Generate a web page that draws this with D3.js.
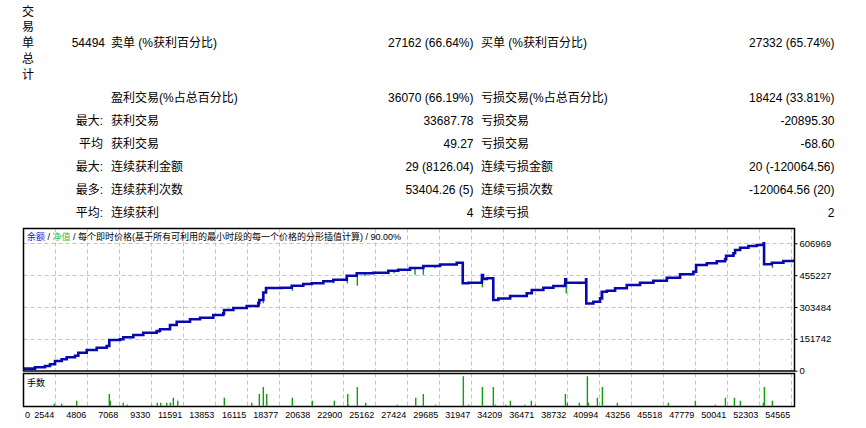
<!DOCTYPE html>
<html><head><meta charset="utf-8">
<script src="https://cdn.jsdelivr.net/npm/d3@7"></script>
<style>
body{margin:0;background:#fff}
text{font-family:"Liberation Sans","Noto Sans CJK SC",sans-serif;fill:#000}
</style>
</head><body>
<svg id="c" width="866" height="428"></svg>
<script>
// ---------- data ----------
const verticalTitle = ["交","易","单","总","计"];
const rowHeads    = ["54494", "", "最大:", "平均", "最大:", "最多:", "平均:"];
const leftLabels  = ["卖单 (%获利百分比)", "盈利交易(%占总百分比)", "获利交易", "获利交易", "连续获利金额", "连续获利次数", "连续获利"];
const leftValues  = ["27162 (66.64%)", "36070 (66.19%)", "33687.78", "49.27", "29 (8126.04)", "53404.26 (5)", "4"];
const rightLabels = ["买单 (%获利百分比)", "亏损交易(%占总百分比)", "亏损交易", "亏损交易", "连续亏损金额", "连续亏损次数", "连续亏损"];
const rightValues = ["27332 (65.74%)", "18424 (33.81%)", "-20895.30", "-68.60", "20 (-120064.56)", "-120064.56 (20)", "2"];

const legendParts = ["余额", " / ", "净值", " / 每个即时价格(基于所有可利用的最小时段的每一个价格的分形插值计算) / 90.00%"];
const volumeTitle = "手数";

const xTickLabels = ["0","2544","4806","7068","9330","11591","13853","16115","18377","20638","22900","25162","27424","29685","31947","34209","36471","38732","40994","43256","45518","47779","50041","52303","54565"];
const yTickValues = [0, 151742, 303484, 455227, 606969];

const balanceTrades = [282,1109,1816,2169,2523,2996,3350,3937,4170,4764,
 5471,6177,6361,7118,7351,8058,8765,9712,9945,10652,
 11126,12066,12773,13713,14420,14469,15127,16074,16894,16965,
 17248,17438,18548,19255,20075,20669,21489,22196,23143,23850,
 25024,26084,26791,27618,28558,29738,30919,31329,31343,31739,
 32686,32700,32778,33040,33485,33500,33860,34687,35867,36221,
 37041,37748,38575,38590,38640,40059,40075,40575,41049,41169,
 41522,42109,42936,43877,44817,45764,46704,47644,47835,48592,
 49298,49885,49956,50472,50592,50946,51532,52126,52607,52640,
 53186,54006,54763];
const balanceValues = [10000,16200,22400,30500,46200,54300,63800,71500,85800,98600,
 109600,117700,146300,149600,159100,170100,181000,189100,197200,217700,
 233500,244900,252500,265400,273500,289200,298700,308300,322500,336800,
 372600,394000,395000,405000,413100,416400,425900,433600,452600,464000,
 466900,476400,481200,489300,498800,506000,514500,514500,416400,419300,
 424000,455900,436900,440200,440200,336800,344000,355900,368800,384500,
 395400,403500,413100,435500,419300,435500,320200,328700,344900,376400,
 381100,392600,408300,419300,428800,443100,459300,471700,503600,511700,
 521200,530700,547900,559300,575100,586000,594100,598900,606969,506900,
 514500,522600,529800];

const equityDipTrades = [9896,10652,12726,14469,16965,17248,19297,20669,22196,23186,
 23892,24436,26487,27971,28558,29385,32729,34737,35698,38660,
 39586,41240,45877,49178,50521,53229];
const equityDipValues = [181000,202000,244900,265400,304900,321100,381100,408300,416400,416400,
 405000,451200,464000,457400,457400,487900,397300,344900,352600,368800,
 411600,336800,435500,508300,547900,490700];

const lotTrades = [2473,2996,4057,6361,6432,7351,7634,9359,9754,9995,
 10419,10673,10886,11197,14491,16428,16965,17248,17488,19297,
 20711,22266,23214,23256,23892,24486,26720,28021,28558,29434,
 31386,31768,32729,33507,33648,34383,34708,35726,36193,36476,
 38597,38738,39586,40152,40222,40859,41212,42273,45877,47786,
 49200,49907,50543,50967,52593,52664,53229];
const lotValues = [0.2,0.2,0.5,1.2,0.5,0.3,0.1,0.1,0.3,0.3,
 0.3,0.3,0.8,0.5,0.8,0.3,1.2,1.9,1.2,0.8,
 0.5,0.5,1.2,0.1,1.9,0.3,0.1,0.8,1.2,0.1,
 3.0,0.1,1.9,1.9,0.1,0.1,0.5,0.1,0.5,0.1,
 1.2,0.3,0.3,3.0,0.3,0.8,1.9,0.3,0.3,0.5,
 0.1,0.8,0.8,0.5,0.3,1.9,0.5];

// ---------- layout ----------
const svg = d3.select("#c");
const L = 23.5, R = 794.5, T = 228.5, B = 371, VT = 373.5, VB = 406.5;
const blue = "#0808b0", green = "#0aa00a", gridC = "#c4c4c4";

// ---------- summary table ----------
const rowY = [47.3, 102, 125, 148, 171, 194.3, 217];
const tableG = svg.append("g").style("font-size", "12px");
tableG.selectAll("text.vt").data(verticalTitle).join("text").attr("class","vt")
  .attr("x", 28).attr("y", (d,i) => 15.5 + i*15.8).attr("text-anchor","middle").text(d => d);
tableG.selectAll("text.rh").data(rowHeads).join("text").attr("class","rh")
  .attr("x", (d,i) => i === 0 ? 105 : 103).attr("y", (d,i) => rowY[i]).attr("text-anchor","end").text(d => d);
tableG.selectAll("text.ll").data(leftLabels).join("text").attr("class","ll")
  .attr("x", 111).attr("y", (d,i) => rowY[i]).text(d => d);
tableG.selectAll("text.lv").data(leftValues).join("text").attr("class","lv")
  .attr("x", 473.5).attr("y", (d,i) => rowY[i]).attr("text-anchor","end").text(d => d);
tableG.selectAll("text.rl").data(rightLabels).join("text").attr("class","rl")
  .attr("x", 481).attr("y", (d,i) => rowY[i]).text(d => d);
tableG.selectAll("text.rv").data(rightValues).join("text").attr("class","rv")
  .attr("x", 834.5).attr("y", (d,i) => rowY[i]).attr("text-anchor","end").text(d => d);

// ---------- scales ----------
const x = d3.scaleLinear().domain([2544, 54565]).range([55.3, 791.3]);
const y = d3.scaleLinear().domain([0, 606969]).range([370.7, 243.3]);
const yv = d3.scaleLinear().domain([0, 3.3]).range([405.7, 373.3]);
const tickNums = xTickLabels.map(Number);

// clip paths
const defs = svg.append("defs");
defs.append("clipPath").attr("id","clipMain").append("rect").attr("x",L).attr("y",T).attr("width",R-L).attr("height",B-T);
defs.append("clipPath").attr("id","clipVol").append("rect").attr("x",L).attr("y",VT).attr("width",R-L).attr("height",VB-VT);

// ---------- grids ----------
const grid = svg.append("g").attr("stroke", gridC).attr("stroke-width",1).attr("stroke-dasharray","4,3").attr("fill","none");
grid.selectAll("line.h").data(yTickValues.slice(1)).join("line").attr("class","h")
  .attr("x1", L).attr("x2", R).attr("y1", d => Math.round(y(d))+0.5).attr("y2", d => Math.round(y(d))+0.5);
grid.selectAll("line.v").data(tickNums.slice(1)).join("line").attr("class","v")
  .attr("x1", d => Math.round(x(d))+0.5).attr("x2", d => Math.round(x(d))+0.5).attr("y1", T).attr("y2", B);
grid.selectAll("line.vv").data(tickNums.slice(1)).join("line").attr("class","vv")
  .attr("x1", d => Math.round(x(d))+0.5).attr("x2", d => Math.round(x(d))+0.5).attr("y1", VT).attr("y2", VB);

// ---------- legend ----------
const leg = svg.append("text").attr("x", 27).attr("y", 239.5).style("font-size","9px");
const legColors = ["#1a1ac8", "#000", "#3cb83c", "#000"];
leg.selectAll("tspan").data(legendParts).join("tspan").style("fill", (d,i) => legColors[i]).text(d => d);

// ---------- equity dips ----------
const stepVal = t => { const i = d3.bisectRight(balanceTrades, t) - 1; return balanceValues[Math.max(0,i)]; };
const main = svg.append("g").attr("clip-path","url(#clipMain)");
main.selectAll("line.dip").data(equityDipTrades).join("line").attr("class","dip")
  .attr("x1", d => x(d)).attr("x2", d => x(d))
  .attr("y1", d => y(stepVal(d))).attr("y2", (d,i) => y(equityDipValues[i]))
  .attr("stroke", green).attr("stroke-width", 1.4);

// ---------- balance line ----------
const pts = balanceTrades.map((t,i) => [t, balanceValues[i]]);
main.append("path").datum(pts)
  .attr("d", d3.line().x(d => x(d[0])).y(d => y(d[1])).curve(d3.curveStepAfter))
  .attr("fill","none").attr("stroke", blue).attr("stroke-width", 2.6).attr("stroke-linejoin","miter");

// ---------- volume bars ----------
const vol = svg.append("g").attr("clip-path","url(#clipVol)");
vol.selectAll("line.lot").data(lotTrades).join("line").attr("class","lot")
  .attr("x1", d => x(d)).attr("x2", d => x(d))
  .attr("y1", yv(0)).attr("y2", (d,i) => yv(lotValues[i]))
  .attr("stroke", green).attr("stroke-width", 1.4);
svg.append("text").attr("x", 27).attr("y", 386).style("font-size","9px").text(volumeTitle);

// ---------- frames ----------
svg.append("rect").attr("x",L).attr("y",T).attr("width",R-L).attr("height",B-T)
  .attr("fill","none").attr("stroke","#000").attr("stroke-width",1.5);
svg.append("rect").attr("x",L).attr("y",VT).attr("width",R-L).attr("height",VB-VT)
  .attr("fill","none").attr("stroke","#000").attr("stroke-width",1.5);

// ---------- axes ----------
const yAxis = d3.axisRight(y).tickValues(yTickValues).tickFormat(d3.format("d")).tickSize(3).tickPadding(2);
const gy = svg.append("g").attr("transform", `translate(${R},0)`).call(yAxis);
gy.select(".domain").remove();
gy.selectAll("text").style("font-size","9.5px").attr("font-family", null);
gy.selectAll("line").attr("stroke","#000");

const xAxis = d3.axisBottom(x).tickValues(tickNums).tickFormat((d,i) => xTickLabels[i]).tickSize(0).tickPadding(0);
const gx = svg.append("g").attr("transform", `translate(0,${VB})`).call(xAxis);
gx.select(".domain").remove();
gx.selectAll("text").style("font-size","9px").attr("font-family", null)
  .attr("text-anchor","end").attr("dx","-1.5").attr("y", 11.2).attr("dy", 0);
gx.selectAll(".tick").filter(d => d === 0).select("text")
  .attr("text-anchor","start").attr("x", L + 1 - x(0)).attr("dx", 0);
</script>
</body></html>
